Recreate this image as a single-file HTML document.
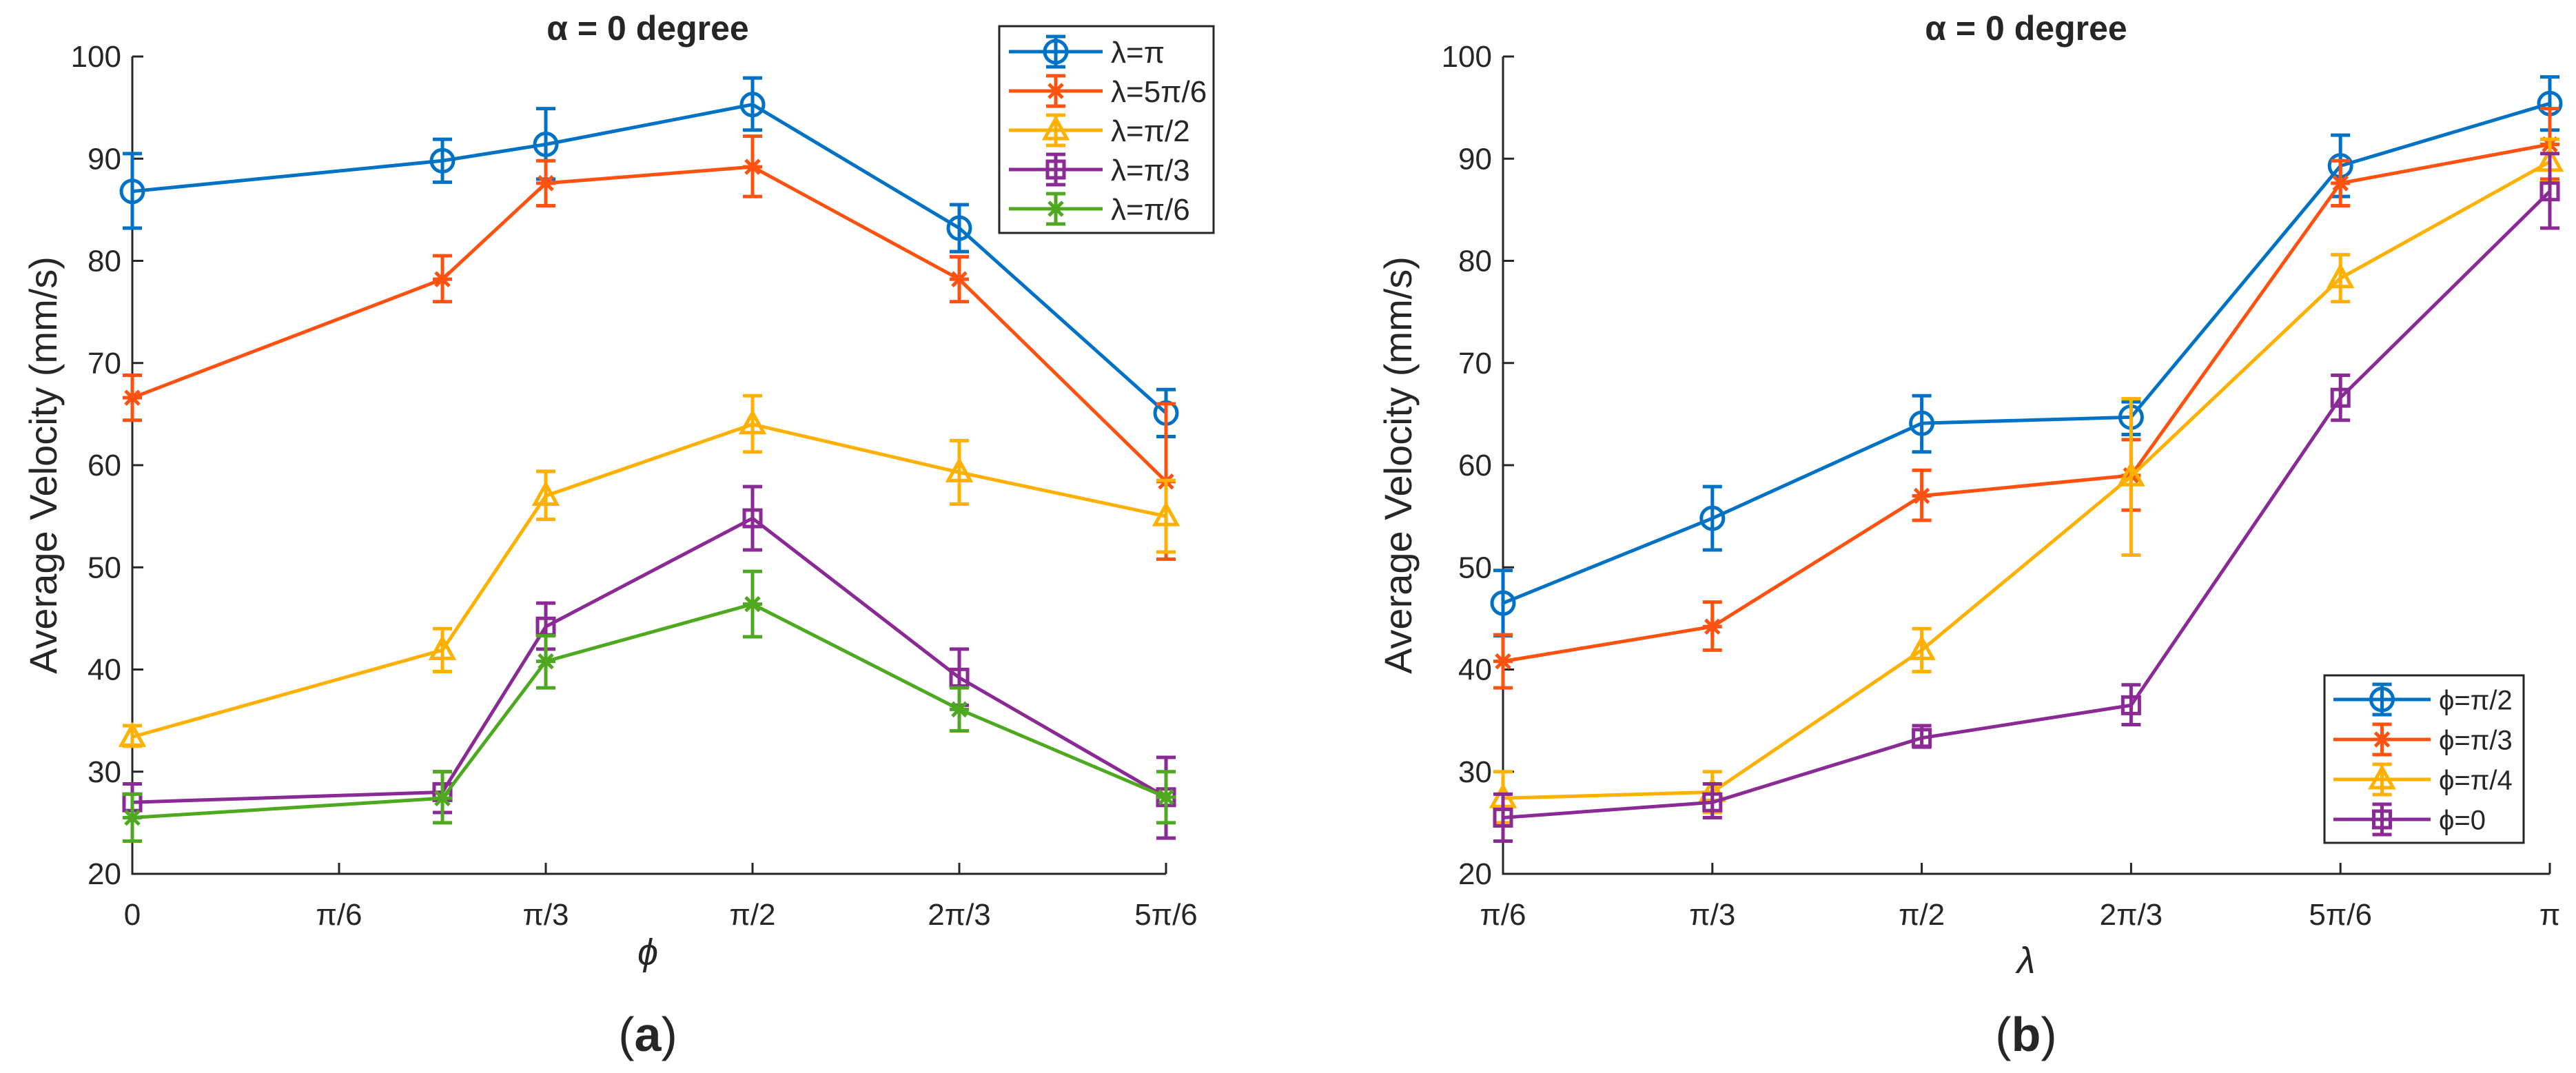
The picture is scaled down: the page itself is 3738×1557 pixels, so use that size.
<!DOCTYPE html>
<html><head><meta charset="utf-8"><style>
html,body{margin:0;padding:0;background:#fff;}
svg{display:block;}
text{font-family:"Liberation Sans",sans-serif;fill:#262626;}
</style></head><body>
<svg id="chart" width="3738" height="1557" viewBox="0 0 3738 1557" xmlns="http://www.w3.org/2000/svg"></svg>
<script>
// ---- data (a) ----
const phiA = [0, 1.5, 2, 3, 4, 5]; // in units of pi/6
const seriesA_names = ["λ=π","λ=5π/6","λ=π/2","λ=π/3","λ=π/6"];
const a_lamPi = [86.8, 89.8, 91.4, 95.3, 83.2, 65.1];
const a_lamPi_lo = [83.2, 87.7, 88.0, 92.8, 80.9, 62.8];
const a_lamPi_hi = [90.5, 91.9, 94.9, 97.9, 85.5, 67.4];
const a_lam5 = [66.6, 78.2, 87.6, 89.2, 78.2, 58.4];
const a_lam5_lo = [64.4, 76.0, 85.4, 86.3, 76.0, 50.8];
const a_lam5_hi = [68.8, 80.5, 89.8, 92.2, 80.4, 66.0];
const a_lam3 = [33.4, 41.9, 57.0, 64.0, 59.3, 55.0];
const a_lam3_lo = [32.5, 39.8, 54.7, 61.3, 56.2, 51.5];
const a_lam3_hi = [34.5, 44.0, 59.4, 66.8, 62.4, 58.5];
const a_lam2 = [27.0, 28.0, 44.2, 54.8, 39.2, 27.5];
const a_lam2_lo = [25.5, 26.0, 42.0, 51.7, 36.5, 23.5];
const a_lam2_hi = [28.8, 30.0, 46.5, 57.9, 42.0, 31.4];
const a_lam1 = [25.5, 27.4, 40.8, 46.4, 36.1, 27.5];
const a_lam1_lo = [23.2, 25.0, 38.2, 43.2, 34.0, 25.0];
const a_lam1_hi = [27.8, 30.0, 43.3, 49.6, 38.2, 30.0];
const ticksA = ["0","π/6","π/3","π/2","2π/3","5π/6"];
// ---- data (b) ----
const lamB = [1, 2, 3, 4, 5, 6];
const seriesB_names = ["ϕ=π/2","ϕ=π/3","ϕ=π/4","ϕ=0"];
const b_phi2 = [46.5, 54.8, 64.1, 64.7, 89.3, 95.4];
const b_phi2_lo = [43.3, 51.7, 61.3, 63.0, 86.3, 92.8];
const b_phi2_hi = [49.7, 57.9, 66.8, 66.2, 92.3, 98.0];
const b_phi3 = [40.8, 44.2, 57.0, 59.0, 87.6, 91.4];
const b_phi3_lo = [38.2, 41.9, 54.6, 55.6, 85.4, 88.0];
const b_phi3_hi = [43.4, 46.6, 59.5, 62.5, 89.8, 94.9];
const b_phi4 = [27.4, 28.0, 41.9, 58.9, 78.3, 89.7];
const b_phi4_lo = [25.0, 26.0, 39.8, 51.2, 76.0, 87.7];
const b_phi4_hi = [30.0, 30.0, 44.0, 66.5, 80.6, 91.9];
const b_phi0 = [25.5, 27.0, 33.3, 36.5, 66.6, 86.8];
const b_phi0_lo = [23.2, 25.5, 32.4, 34.6, 64.4, 83.2];
const b_phi0_hi = [27.8, 28.8, 34.5, 38.5, 68.8, 90.5];
const ticksB = ["π/6","π/3","π/2","2π/3","5π/6","π"];
const yTicks = [20,30,40,50,60,70,80,90,100];

const NS="http://www.w3.org/2000/svg";
const svg=document.getElementById('chart');
function mk(tag,attrs,parent){const e=document.createElementNS(NS,tag);for(const k in attrs)e.setAttribute(k,attrs[k]);(parent||svg).appendChild(e);return e;}
const C={blue:"#0072C6",orange:"#FF5210",yellow:"#FFB000",purple:"#8A2A94",green:"#4EA820"};

function yScale(v){return 1268-(v-20)*(1268-82)/80;}

function marker(g,type,x,y,col){
  let m;
  if(type==='o'){m=mk('circle',{cx:x,cy:y,r:16,fill:'none',stroke:col,'stroke-width':5},g);}
  else if(type==='^'){m=mk('polygon',{points:`${x},${y-17} ${x+16},${y+12} ${x-16},${y+12}`,fill:'none',stroke:col,'stroke-width':5},g);}
  else if(type==='s'){m=mk('rect',{x:x-12,y:y-12,width:24,height:24,fill:'none',stroke:col,'stroke-width':5},g);}
  else {m=mk('path',{d:`M${x-14},${y}H${x+14}M${x},${y-14}V${y+14}M${x-10},${y-10}L${x+10},${y+10}M${x-10},${y+10}L${x+10},${y-10}`,stroke:col,'stroke-width':5,fill:'none'},g);}
  
  
}
function errbar(g,x,lo,hi,col){
  const e=mk('path',{d:`M${x},${lo}V${hi}M${x-14},${lo}H${x+14}M${x-14},${hi}H${x+14}`,stroke:col,'stroke-width':5,fill:'none'},g);
  
  
}

function panel(opt){
  const g=mk('g',{});
  
  
  const xs=v=>opt.x0+(v-opt.v0)*opt.dx;
  const axL=opt.x0, axR=xs(opt.vEnd);
  // axes
  const ax=mk('path',{d:`M${axL},82V1268H${axR}`,stroke:'#262626','stroke-width':3,fill:'none'},g);
  
  
  yTicks.forEach(t=>{
    const y=yScale(t);
    const tk=mk('line',{x1:axL,x2:axL+16,y1:y,y2:y,stroke:'#262626','stroke-width':3},g);
    
    
    const tl=mk('text',{x:axL-16,y:y+15,'text-anchor':'end','font-size':44},g);
    tl.textContent=t;
    
    
  });
  opt.tickVals.forEach((v,i)=>{
    const x=xs(v);
    const tk=mk('line',{x1:x,x2:x,y1:1268,y2:1252,stroke:'#262626','stroke-width':3},g);
    
    
    const tl=mk('text',{x:x,y:1342,'text-anchor':'middle','font-size':44},g);
    tl.textContent=opt.tickLabels[i];
    
    
  });
  // series
  opt.series.forEach(s=>{
    const sg=mk('g',{},g);
    
    
    const pts=s.v.map((v,i)=>xs(opt.xv[i])+','+yScale(v)).join(' ');
    const pl=mk('polyline',{points:pts,fill:'none',stroke:s.col,'stroke-width':5},sg);
    
    
    s.v.forEach((v,i)=>{
      const x=xs(opt.xv[i]);
      errbar(sg,x,yScale(s.lo[i]),yScale(s.hi[i]),s.col);
      marker(sg,s.m,x,yScale(v),s.col);
    });
  });
  // title
  const t=mk('text',{x:opt.tx,y:58,'text-anchor':'middle','font-size':50,'font-weight':'bold',fill:'#000'},g);
  t.textContent='α = 0 degree';
  
  
  const yl=mk('text',{x:0,y:0,'text-anchor':'middle','font-size':56,transform:`translate(${opt.ylx},675) rotate(-90)`},g);
  yl.textContent='Average Velocity (mm/s)';
  
  
  const xl=mk('text',{x:opt.tx,y:opt.xly,'text-anchor':'middle','font-size':54,'font-style':'italic','font-family':'Liberation Serif, serif'},g);
  xl.textContent=opt.xlabel;
  
  
  const pl=mk('text',{x:opt.tx,y:1525,'text-anchor':'middle','font-size':70,'font-family':'Liberation Serif, serif',fill:'#000'},g);
  pl.innerHTML='(<tspan font-weight="bold">'+opt.letter+'</tspan>)';
  
  
  // legend
  const L=opt.leg;
  const lg=mk('g',{},g);
  
  
  mk('rect',{x:L.x,y:L.y,width:L.w,height:L.h,fill:'#fff',stroke:'#262626','stroke-width':3},lg);
  opt.series.forEach((s,i)=>{
    const y=L.y+L.first+i*L.step;
    const eg=mk('g',{},lg);
    
    
    mk('line',{x1:L.x+L.l1,x2:L.x+L.l2,y1:y,y2:y,stroke:s.col,'stroke-width':5},eg);
    const mx=(L.x+L.l1+L.x+L.l2)/2;
    errbar(eg,mx,y+22,y-22,s.col);
    marker(eg,s.m,mx,y,s.col);
    const tx=mk('text',{x:L.x+L.l2+12,y:y+L.fs*0.36,'font-size':L.fs},eg);
    tx.textContent=s.label;
  });
}

panel({name:'panel-a',x0:192,v0:0,dx:300,vEnd:5,xv:phiA,tickVals:[0,1,2,3,4,5],tickLabels:ticksA,
  tx:940,ylx:82,xly:1400,xlabel:'ϕ',letter:'a',
  leg:{x:1450,y:38,w:311,h:300,first:37,step:57,l1:14,l2:150,fs:44},
  series:[
    {key:'lambda-pi',label:seriesA_names[0],col:C.blue,m:'o',v:a_lamPi,lo:a_lamPi_lo,hi:a_lamPi_hi},
    {key:'lambda-5pi-6',label:seriesA_names[1],col:C.orange,m:'*',v:a_lam5,lo:a_lam5_lo,hi:a_lam5_hi},
    {key:'lambda-pi-2',label:seriesA_names[2],col:C.yellow,m:'^',v:a_lam3,lo:a_lam3_lo,hi:a_lam3_hi},
    {key:'lambda-pi-3',label:seriesA_names[3],col:C.purple,m:'s',v:a_lam2,lo:a_lam2_lo,hi:a_lam2_hi},
    {key:'lambda-pi-6',label:seriesA_names[4],col:C.green,m:'*',v:a_lam1,lo:a_lam1_lo,hi:a_lam1_hi}
  ]});
panel({name:'panel-b',x0:2181,v0:1,dx:303.8,vEnd:6,xv:lamB,tickVals:[1,2,3,4,5,6],tickLabels:ticksB,
  tx:2940,ylx:2048,xly:1412,xlabel:'λ',letter:'b',
  leg:{x:3373,y:980,w:289,h:243,first:35,step:58,l1:13,l2:154,fs:40},
  series:[
    {key:'phi-pi-2',label:seriesB_names[0],col:C.blue,m:'o',v:b_phi2,lo:b_phi2_lo,hi:b_phi2_hi},
    {key:'phi-pi-3',label:seriesB_names[1],col:C.orange,m:'*',v:b_phi3,lo:b_phi3_lo,hi:b_phi3_hi},
    {key:'phi-pi-4',label:seriesB_names[2],col:C.yellow,m:'^',v:b_phi4,lo:b_phi4_lo,hi:b_phi4_hi},
    {key:'phi-0',label:seriesB_names[3],col:C.purple,m:'s',v:b_phi0,lo:b_phi0_lo,hi:b_phi0_hi}
  ]});
</script>
</body></html>
